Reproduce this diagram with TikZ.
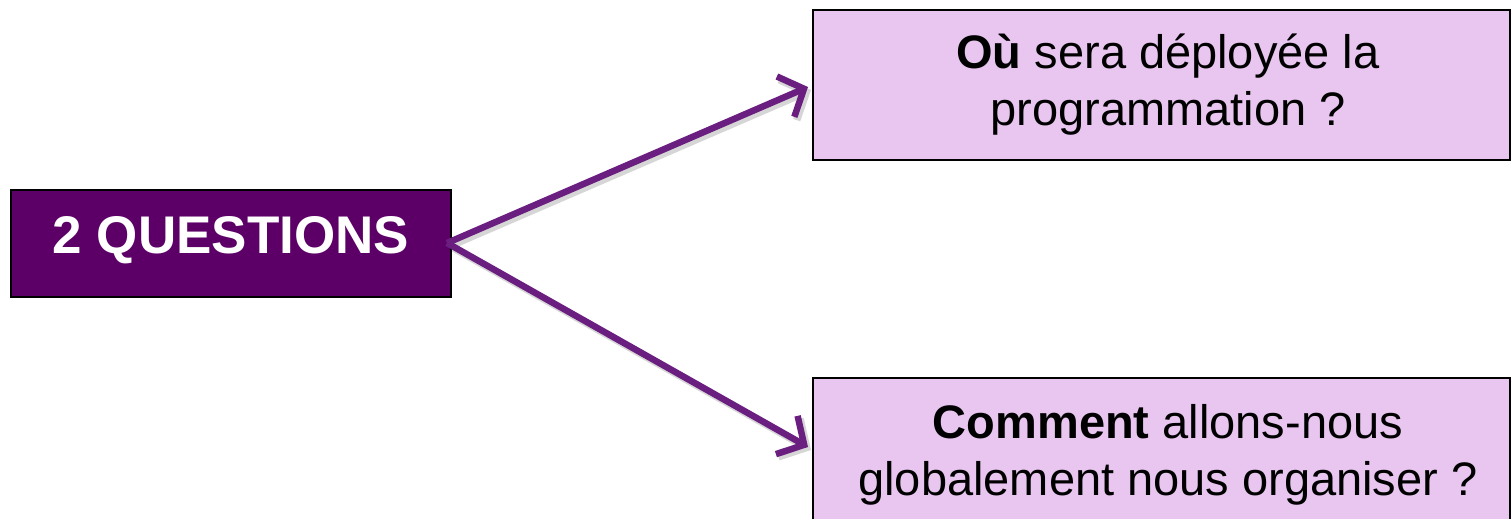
\documentclass[tikz,border=0pt]{standalone}
\usepackage{fontspec}
\setmainfont{Liberation Sans}
\usetikzlibrary{arrows.meta}
\definecolor{darkpurple}{HTML}{5C0068}
\definecolor{lightpurple}{HTML}{E8C6F0}
\definecolor{arrowpurple}{HTML}{6A1E80}
\begin{document}
\begin{tikzpicture}[x=1pt,y=-1pt,
  mainbox/.style={draw=black, line width=1.5pt, fill=darkpurple, minimum width=440pt, minimum height=107pt, inner sep=0pt},
  qbox/.style={draw=black, line width=1.5pt, fill=lightpurple, minimum width=697pt, inner sep=0pt},
  qline/.style={font=\fontsize{47}{57}\selectfont, anchor=base, inner sep=0pt},
  link/.style={draw=arrowpurple, line width=6.5pt, -{Straight Barb[length=20pt,width=44pt]}},
  linkshadow/.style={draw=black, opacity=0.16, line width=7.5pt, -{Straight Barb[length=20pt,width=44pt]}}]
\useasboundingbox (0,0) rectangle (1512,519);
% boxes
\node[mainbox] (main) at (231,243.5) {};
\node[font=\fontsize{53}{60}\selectfont\bfseries, text=white, anchor=base, inner sep=0pt] (mainlbl) at (231,253) {2 QUESTIONS};
\node[qbox, minimum height=150pt] (q1) at (1161.5,85) {};
\node[qline] (q1a) at (1168,68) {\textbf{Où} sera déployée la};
\node[qline] (q1b) at (1168,125) {programmation ?};
\node[qbox, minimum height=162pt] (q2) at (1161.5,459) {};
\node[qline] (q2a) at (1168,438) {\textbf{Comment} allons-nous};
\node[qline] (q2b) at (1168,495) {globalement nous organiser ?};
% connectors
\coordinate (start) at (447,243);
\coordinate (t1) at (808,87);
\coordinate (t2) at (808,447);
\coordinate (s0) at (450,246);
\coordinate (s1) at (811,90);
\coordinate (s2) at (811,450);
\draw[linkshadow] (s0) -- (s1);
\draw[linkshadow] (s0) -- (s2);
\draw[link] (start) -- (t1);
\draw[link] (start) -- (t2);
\end{tikzpicture}
\end{document}
